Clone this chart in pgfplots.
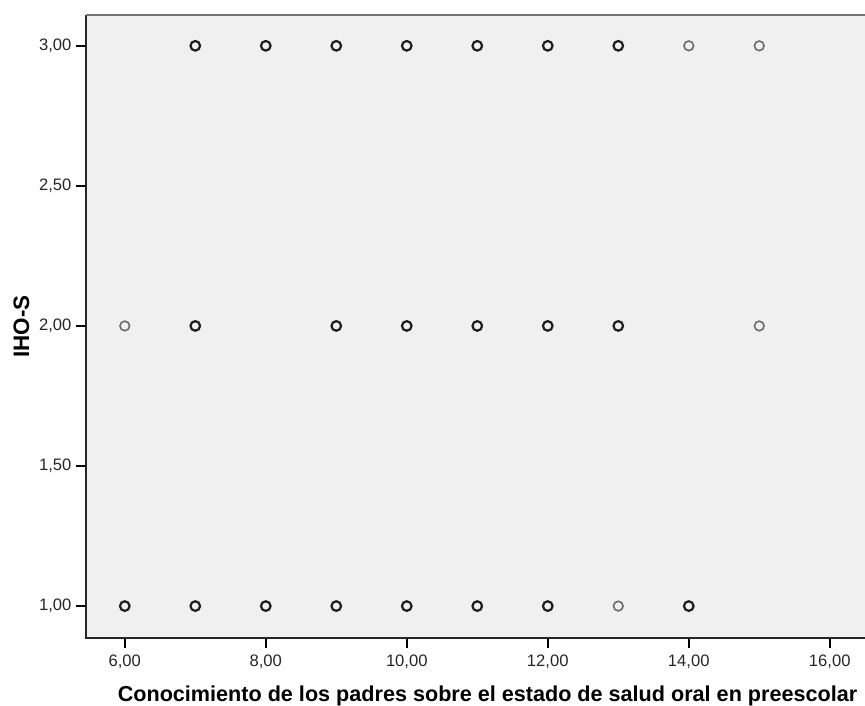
\documentclass[border=0pt]{standalone}
\usepackage{pgfplots}
\pgfplotsset{compat=1.18}
\usepackage{fontspec}
\setmainfont{Liberation Sans}
\definecolor{bg}{HTML}{F0F0F0}
\definecolor{dk}{HTML}{1E1E1E}
\definecolor{gr}{HTML}{6A6A6A}
\begin{document}
\begin{tikzpicture}
\path[use as bounding box] (-43pt,-33.5pt) rectangle (389.5pt,319pt);
\begin{axis}[
  at={(0,0)}, anchor=south west,
  scale only axis, width=389.5pt, height=311.5pt,
  xmin=5.45, xmax=16.5, ymin=0.886, ymax=3.11,
  axis background/.style={fill=bg},
  axis line style={draw=none},
  xtick={6,8,10,12,14,16},
  xticklabels={{6,00},{8,00},{10,00},{12,00},{14,00},{16,00}},
  ytick={1,1.5,2,2.5,3},
  yticklabels={{1,00},{1,50},{2,00},{2,50},{3,00}},
  tick align=outside, major tick length=4.8pt,
  tick style={black, line width=0.8pt},
  xtick pos=bottom, ytick pos=left,
  ticklabel style={font=\fontsize{8.3}{10}\selectfont, text=black!85},
  yticklabel style={xshift=1pt},
  xlabel={\bfseries Conocimiento de los padres sobre el estado de salud oral en preescolar},
  ylabel={\bfseries IHO-S},
  xlabel style={font=\fontsize{10.8}{12}\selectfont, yshift=-2pt, xshift=6pt},
  ylabel style={font=\fontsize{11.2}{12}\selectfont, yshift=-2pt},
  clip=false,
]
\draw[black!85, line width=0.9pt] (rel axis cs:0,1) -- (rel axis cs:0,0) -- (rel axis cs:1,0);
\draw[black!55, line width=1pt] (rel axis cs:0,1) -- (rel axis cs:1,1);
% single cases (gray)
\addplot[only marks, mark=o, mark size=2.4pt, mark options={draw=gr, line width=0.8pt}]
  coordinates {(14,3) (15,3) (6,2) (15,2) (13,1)};
% multiple cases (dark)
\addplot[only marks, mark=o, mark size=2.4pt, mark options={draw=dk, line width=1.1pt}]
  coordinates {
  (7,3) (8,3) (9,3) (10,3) (11,3) (12,3) (13,3)
  (7,2) (9,2) (10,2) (11,2) (12,2) (13,2)
  (6,1) (7,1) (8,1) (9,1) (10,1) (11,1) (12,1) (14,1)};
\end{axis}
\end{tikzpicture}
\end{document}
